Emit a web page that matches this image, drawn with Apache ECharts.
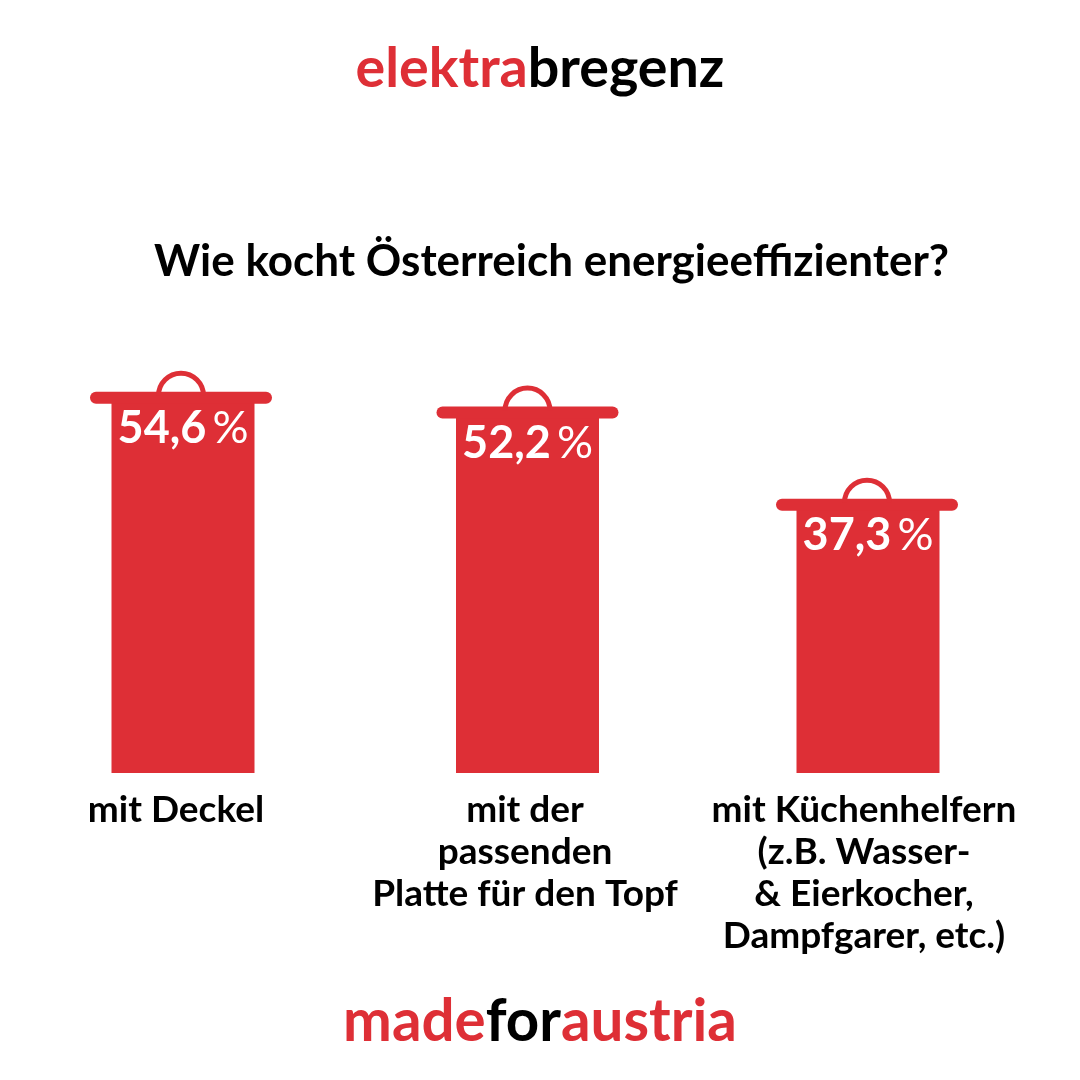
<!DOCTYPE html>
<html>
<head>
<meta charset="utf-8">
<style>
  html, body { margin: 0; padding: 0; background: #fff; }
  #chart { width: 1080px; height: 1080px; }
</style>
<script src="https://cdn.jsdelivr.net/npm/echarts@6/dist/echarts.min.js"></script>
</head>
<body>
<div id="chart"></div>
<script>
const categories = ['mit Deckel', 'mit der\npassenden\nPlatte für den Topf', 'mit Küchenhelfern\n(z.B. Wasser-\n& Eierkocher,\nDampfgarer, etc.)'];
const values = [54.6, 52.2, 37.3];

const RED = '#de2f36';
const FONT = 'Lato';
// the pots are not evenly spaced in the original, and the first lid sits off centre
const barNudge = [0, 2.5, 1];
const lidNudge = [-2, 0, -1];
const yMin = -6.1;

const chart = echarts.init(document.getElementById('chart'));

function drawPot(params, api) {
  const i = api.value(0);
  const v = api.value(1);
  const top = api.coord([i, v]);
  const base = api.coord([i, yMin]);
  const cx = top[0] + barNudge[i];
  const lidX = cx + lidNudge[i];
  const lidY = top[1];
  const valueText = v.toFixed(1).replace('.', ',');
  return {
    type: 'group',
    children: [
      { type: 'rect', shape: { x: cx - 71.5, y: lidY, width: 143, height: base[1] - lidY }, style: { fill: RED } },
      { type: 'rect', shape: { x: lidX - 91, y: lidY - 6, width: 182, height: 12, r: 6 }, style: { fill: RED } },
      { type: 'arc', shape: { cx: lidX, cy: lidY - 2, r: 22.5, startAngle: Math.PI, endAngle: 2 * Math.PI }, style: { stroke: RED, lineWidth: 5, fill: null } },
      {
        type: 'text',
        x: cx,
        y: lidY + 31,
        style: {
          text: '{n|' + valueText + '}{p|%}',
          align: 'center',
          verticalAlign: 'middle',
          rich: {
            n: { fontFamily: FONT, fontWeight: 700, fontSize: 45, fill: '#fff', color: '#fff' },
            p: { fontFamily: FONT, fontWeight: 400, fontSize: 45, fill: '#fff', color: '#fff', padding: [0, 0, 0, 6] }
          }
        }
      }
    ]
  };
}

chart.setOption({
  animation: false,
  backgroundColor: '#fff',
  title: [
    {
      text: '{r|elektra}{k|bregenz}',
      left: 'center',
      top: 36,
      textStyle: {
        rich: {
          r: { fontFamily: FONT, fontWeight: 700, fontSize: 55.6, color: RED },
          k: { fontFamily: FONT, fontWeight: 700, fontSize: 55.6, color: '#000' }
        }
      }
    },
    {
      text: 'Wie kocht Österreich energieeffizienter?',
      left: 149,
      top: 235,
      textStyle: { fontFamily: FONT, fontWeight: 700, fontSize: 44, color: '#000' }
    },
    {
      text: '{r|made}{k|for}{r|austria}',
      left: 'center',
      top: 988,
      textStyle: {
        rich: {
          r: { fontFamily: FONT, fontWeight: 700, fontSize: 58.3, color: RED },
          k: { fontFamily: FONT, fontWeight: 700, fontSize: 58.3, color: '#000' }
        }
      }
    }
  ],
  grid: { left: 12, top: 373, width: 1026, height: 400 },
  xAxis: {
    type: 'category',
    data: categories,
    axisLine: { show: false },
    axisTick: { show: false },
    axisLabel: {
      interval: 0,
      margin: 16,
      fontFamily: FONT,
      fontWeight: 700,
      fontSize: 37,
      lineHeight: 42,
      color: '#000',
      formatter: function (v, i) {
        return v.split('\n').map(function (l) { return '{s' + i + '|' + l + '}'; }).join('\n');
      },
      rich: {
        s0: { padding: [0, 14, 0, 0] },
        s1: { padding: [0, 0, 0, 0] },
        s2: { padding: [0, 6, 0, 0] }
      }
    }
  },
  yAxis: { type: 'value', min: yMin, max: 58.6, show: false },
  series: [{
    type: 'custom',
    renderItem: drawPot,
    encode: { x: 0, y: 1 },
    data: values.map(function (v, i) { return [i, v]; })
  }]
});
</script>
</body>
</html>
